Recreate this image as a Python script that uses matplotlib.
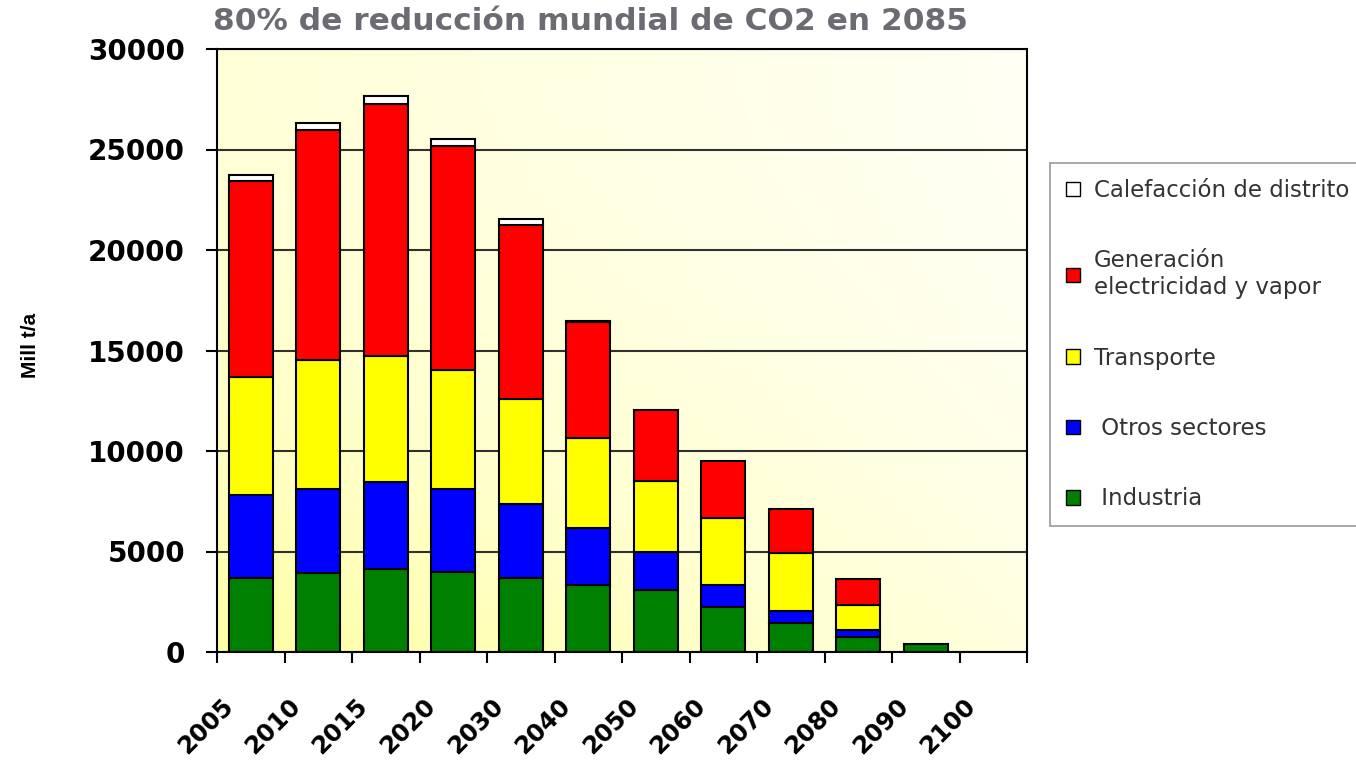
import numpy as np
import matplotlib.pyplot as plt
from matplotlib.patches import Patch
from matplotlib.transforms import ScaledTranslation

# data (Mill t/a)
years = ['2005', '2010', '2015', '2020', '2030', '2040',
         '2050', '2060', '2070', '2080', '2090', '2100']
industria = [3670, 3920, 4140, 3970, 3670, 3340, 3060, 2230, 1430, 730, 400, 0]
otros = [4120, 4190, 4315, 4140, 3705, 2805, 1940, 1110, 630, 370, 0, 0]
transporte = [5900, 6440, 6295, 5910, 5215, 4505, 3490, 3320, 2890, 1240, 0, 0]
generacion = [9760, 11430, 12510, 11160, 8640, 5760, 3570, 2820, 2180, 1280, 0, 0]
calefaccion = [270, 350, 400, 365, 300, 60, 0, 0, 0, 0, 0, 0]

series = [
    (industria, '#008000', ' Industria'),
    (otros, '#0000ff', ' Otros sectores'),
    (transporte, '#ffff00', 'Transporte'),
    (generacion, '#ff0000', 'Generación\nelectricidad y vapor'),
    (calefaccion, '#ffffff', 'Calefacción de distrito'),
]

W, H = 1356, 761
fig = plt.figure(figsize=(W / 100, H / 100), dpi=100)
ax = fig.add_axes([217 / W, 1 - 652 / H, (1027 - 217) / W, (652 - 49) / H])

# yellowish gradient in the plot area, strongest at the bottom left
gx, gy = np.meshgrid(np.linspace(0, 1, 200), np.linspace(0, 1, 200))
t = 0.35 * (1 - gx) + 0.65 * gy ** 2 * (1 - 0.6 * gx)
bg = np.ones((200, 200, 3))
bg[..., 2] = (244 - 80 * t) / 255
ax.imshow(bg, extent=[0, 1, 0, 1], transform=ax.transAxes, aspect='auto',
          zorder=0, origin='upper')

x = np.arange(len(years))
bottom = np.zeros(len(years))
handles = []
for vals, col, lab in series:
    vals = np.array(vals, dtype=float)
    lw = np.where(vals > 0, 1.5, 0.0)
    ax.bar(x, vals, 0.65, bottom=bottom, color=col, edgecolor='black',
           linewidth=lw, zorder=2)
    bottom += vals
    handles.append(Patch(facecolor=col, edgecolor='black', linewidth=1, label=lab))

ax.set_xlim(-0.5, len(years) - 0.5)
ax.set_ylim(0, 30000)
ax.set_axisbelow(True)
ax.yaxis.grid(True, color='#303030', linewidth=1.5)

ax.set_yticks(np.arange(0, 30001, 5000))
ax.tick_params(axis='y', direction='out', length=8, width=1.5, pad=15,
               labelsize=20)
for lb in ax.get_yticklabels():
    lb.set_fontweight('bold')

ax.set_xticks(x, years, rotation=45, ha='right', rotation_mode='anchor',
              fontsize=17.5, fontweight='bold')
ax.set_xticks(np.arange(-0.5, len(years)), minor=True)
ax.tick_params(axis='x', which='major', length=0, pad=30)
ax.tick_params(axis='x', which='minor', direction='out', length=8, width=1.5)
shift = ScaledTranslation(-0.30, 0, fig.dpi_scale_trans)
for lb in ax.get_xticklabels():
    lb.set_transform(lb.get_transform() + shift)

for s in ax.spines.values():
    s.set_linewidth(1.5)
    s.set_color('black')

fig.text(590 / W, 1 - 21 / H, '80% de reducción mundial de CO2 en 2085',
         ha='center', va='center', fontsize=22.5, fontweight='bold',
         color='#6b6b73')
fig.text(30 / W, 1 - 345 / H, 'Mill t/a', rotation=90, ha='center',
         va='center', fontsize=15, fontweight='bold', family='Liberation Sans')

leg = fig.legend(handles[::-1], [h.get_label() for h in handles[::-1]],
                 loc='upper left', bbox_to_anchor=(1050 / W, 1 - 163 / H),
                 frameon=True, fancybox=False, edgecolor='#808080',
                 fontsize=16.5, labelspacing=2.07, handlelength=0.6,
                 handleheight=0.6, handletextpad=0.6, borderpad=0.7,
                 borderaxespad=0)
leg.get_frame().set_linewidth(1.2)
for tx in leg.get_texts():
    tx.set_color('#333333')

fig.savefig('out.png', dpi=100)
